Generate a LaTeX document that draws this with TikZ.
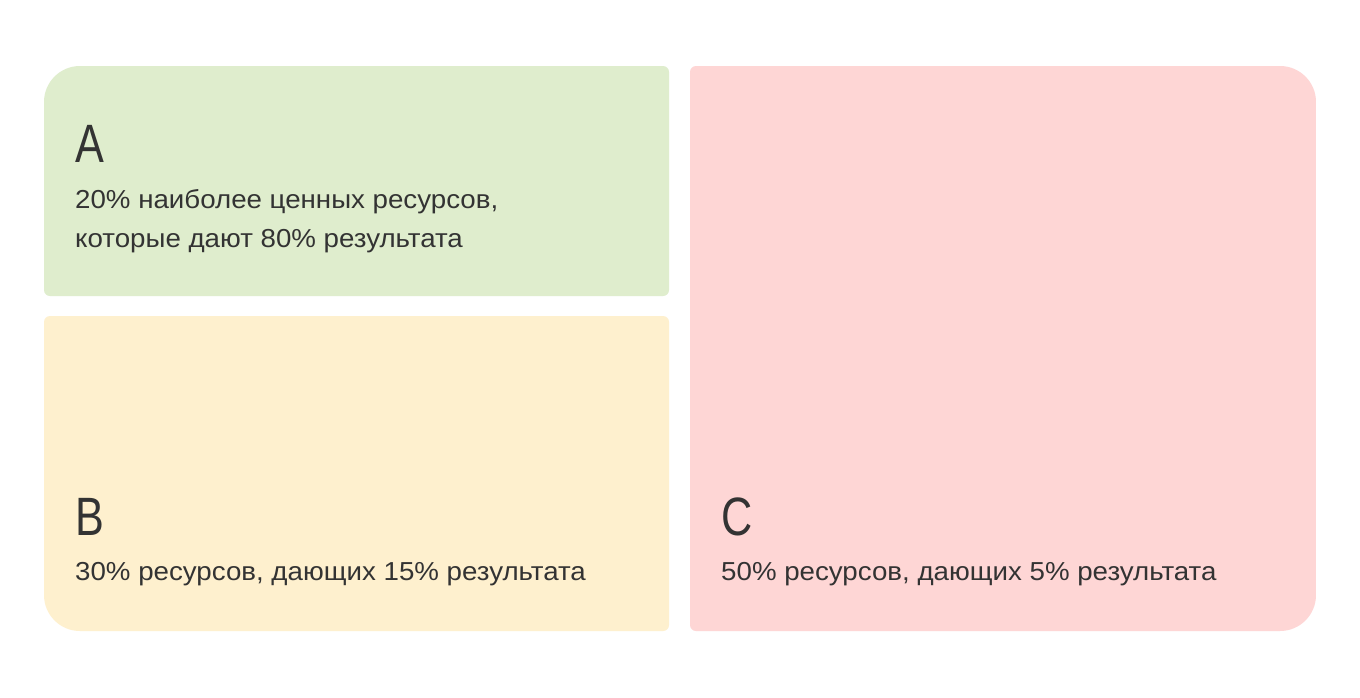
\documentclass[tikz,border=0pt]{standalone}
\usepackage{fontspec}
\setmainfont{Liberation Sans}
\newfontfamily\bodyfont[FakeStretch=1.065]{Liberation Sans}
\newfontfamily\headfont[FakeStretch=0.8]{Liberation Sans}
\definecolor{boxA}{HTML}{DFEDCD}
\definecolor{boxB}{HTML}{FEF0CE}
\definecolor{boxC}{HTML}{FED6D5}
\definecolor{ink}{HTML}{333333}
\tikzset{
  letter/.style={anchor=base west, inner sep=0pt, text=ink, font=\headfont\fontsize{54}{60}\selectfont},
  desc/.style={anchor=base west, inner sep=0pt, text=ink, font=\bodyfont\fontsize{26}{39}\selectfont},
}
\begin{document}
\begin{tikzpicture}[x=1pt,y=-1pt]
\useasboundingbox[fill=white] (0,0) rectangle (1360,697);
% box A
\begin{scope}
\clip[rounded corners=36pt] (44,66) rectangle (800,400);
\fill[boxA, rounded corners=6pt] (44,66) rectangle (669,296);
\end{scope}
% box B
\begin{scope}
\clip[rounded corners=36pt] (44,200) rectangle (800,631);
\fill[boxB, rounded corners=6pt] (44,316) rectangle (669,631);
\end{scope}
% box C
\begin{scope}
\clip[rounded corners=36pt] (600,66) rectangle (1316,631);
\fill[boxC, rounded corners=6pt] (690,66) rectangle (1316,631);
\end{scope}
\node[letter] (la) at (75,162) {A};
\node[desc] (da1) at (75,208) {20\% наиболее ценных ресурсов,};
\node[desc] (da2) at (75,247) {которые дают 80\% результата};
\node[letter] (lb) at (75,535) {B};
\node[desc] (db) at (75,580) {30\% ресурсов, дающих 15\% результата};
\node[letter] (lc) at (721,535) {C};
\node[desc] (dc) at (721,580) {50\% ресурсов, дающих 5\% результата};
\end{tikzpicture}
\end{document}
